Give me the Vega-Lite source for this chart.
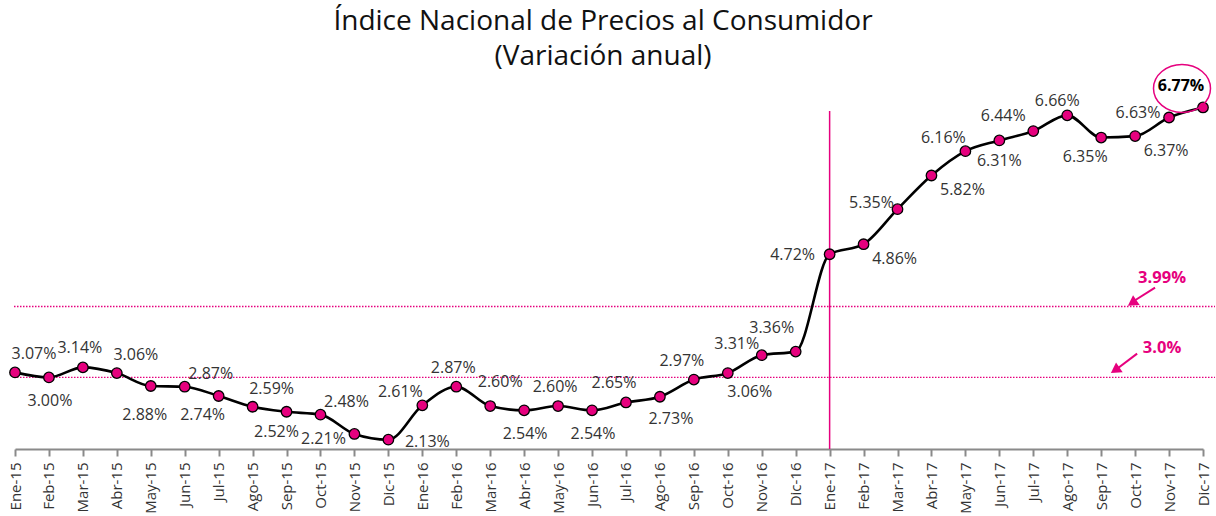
{
  "$schema": "https://vega.github.io/schema/vega-lite/v6.json",
  "width": 1188,
  "height": 358,
  "autosize": "none",
  "padding": {"left": 15, "top": 91, "right": 13, "bottom": 67},
  "background": "white",
  "config": {"view": {"stroke": null}, "font": "Open Sans", "text": {"font": "Open Sans", "fontSize": 16, "color": "#333"}},
  "title": {
    "text": ["Índice Nacional de Precios al Consumidor", "(Variación anual)"],
    "font": "Open Sans",
    "fontSize": 28,
    "fontWeight": "normal",
    "color": "#111",
    "anchor": "middle",
    "lineHeight": 35,
    "offset": -9,
    "dx": -6
  },
  "data": {
    "values": [
      {"m": "Ene-15", "v": 3.07}, {"m": "Feb-15", "v": 3.00}, {"m": "Mar-15", "v": 3.14},
      {"m": "Abr-15", "v": 3.06}, {"m": "May-15", "v": 2.88}, {"m": "Jun-15", "v": 2.87},
      {"m": "Jul-15", "v": 2.74}, {"m": "Ago-15", "v": 2.59}, {"m": "Sep-15", "v": 2.52},
      {"m": "Oct-15", "v": 2.48}, {"m": "Nov-15", "v": 2.21}, {"m": "Dic-15", "v": 2.13},
      {"m": "Ene-16", "v": 2.61}, {"m": "Feb-16", "v": 2.87}, {"m": "Mar-16", "v": 2.60},
      {"m": "Abr-16", "v": 2.54}, {"m": "May-16", "v": 2.60}, {"m": "Jun-16", "v": 2.54},
      {"m": "Jul-16", "v": 2.65}, {"m": "Ago-16", "v": 2.73}, {"m": "Sep-16", "v": 2.97},
      {"m": "Oct-16", "v": 3.06}, {"m": "Nov-16", "v": 3.31}, {"m": "Dic-16", "v": 3.36},
      {"m": "Ene-17", "v": 4.72}, {"m": "Feb-17", "v": 4.86}, {"m": "Mar-17", "v": 5.35},
      {"m": "Abr-17", "v": 5.82}, {"m": "May-17", "v": 6.16}, {"m": "Jun-17", "v": 6.31},
      {"m": "Jul-17", "v": 6.44}, {"m": "Ago-17", "v": 6.66}, {"m": "Sep-17", "v": 6.35},
      {"m": "Oct-17", "v": 6.37}, {"m": "Nov-17", "v": 6.63}, {"m": "Dic-17", "v": 6.77}
    ]
  },
  "transform": [{"calculate": "format(datum.v, '.2f') + '%'", "as": "lbl"}],
  "encoding": {
    "x": {
      "field": "m", "type": "ordinal", "sort": null,
      "scale": {"type": "point", "padding": 0, "domain": ["Ene-15", "Feb-15", "Mar-15", "Abr-15", "May-15", "Jun-15", "Jul-15", "Ago-15", "Sep-15", "Oct-15", "Nov-15", "Dic-15", "Ene-16", "Feb-16", "Mar-16", "Abr-16", "May-16", "Jun-16", "Jul-16", "Ago-16", "Sep-16", "Oct-16", "Nov-16", "Dic-16", "Ene-17", "Feb-17", "Mar-17", "Abr-17", "May-17", "Jun-17", "Jul-17", "Ago-17", "Sep-17", "Oct-17", "Nov-17", "Dic-17"]},
      "axis": {
        "title": null, "labelAngle": 270, "labelAlign": "right", "labelBaseline": "middle",
        "labelFont": "Open Sans", "labelFontSize": 15, "labelColor": "#333", "labelPadding": 6,
        "domainColor": "#8a8a8a", "domainWidth": 2, "tickColor": "#8a8a8a", "tickWidth": 2, "tickSize": 7,
        "grid": false, "labelOverlap": false
      }
    },
    "y": {"field": "v", "type": "quantitative", "scale": {"domain": [2, 7], "nice": false, "zero": false}, "axis": null}
  },
  "layer": [
    {
      "data": {"values": [{"r": 3.0}, {"r": 3.99}]},
      "mark": {"type": "rule", "color": "#E6007E", "strokeWidth": 1.4, "strokeDash": [1.5, 1.5], "x2Offset": 12, "xOffset": -1},
      "encoding": {"x": {"datum": "Ene-15"}, "x2": {"datum": "Dic-17"}, "y": {"field": "r", "type": "quantitative"}}
    },
    {
      "data": {"values": [{"mx": "Ene-17", "lo": 2, "hi": 6.72}]},
      "mark": {"type": "rule", "color": "#E6007E", "strokeWidth": 1.5},
      "encoding": {"x": {"field": "mx", "type": "ordinal"}, "y": {"field": "lo", "type": "quantitative"}, "y2": {"field": "hi"}}
    },
    {"mark": {"type": "line", "color": "#000", "strokeWidth": 2.6, "interpolate": "monotone"}},
    {"mark": {"type": "point", "filled": true, "fill": "#E6007E", "stroke": "#000", "strokeWidth": 1.3, "size": 110, "opacity": 1}},
    {"transform": [{"filter": {"field": "m", "oneOf": ["Ene-15", "Abr-15", "Ago-15"]}}], "mark": {"type": "text", "dx": 19, "dy": -18}, "encoding": {"text": {"field": "lbl"}}},
    {"transform": [{"filter": {"field": "m", "oneOf": ["Mar-15", "Feb-16", "May-16"]}}], "mark": {"type": "text", "dx": -3, "dy": -19}, "encoding": {"text": {"field": "lbl"}}},
    {"transform": [{"filter": {"field": "m", "oneOf": ["Feb-15", "Abr-16", "Jun-16"]}}], "mark": {"type": "text", "dx": 1, "dy": 24}, "encoding": {"text": {"field": "lbl"}}},
    {"transform": [{"filter": {"field": "m", "oneOf": ["May-15"]}}], "mark": {"type": "text", "dx": -6, "dy": 29}, "encoding": {"text": {"field": "lbl"}}},
    {"transform": [{"filter": {"field": "m", "oneOf": ["Jun-15", "Oct-15"]}}], "mark": {"type": "text", "dx": 26, "dy": -13}, "encoding": {"text": {"field": "lbl"}}},
    {"transform": [{"filter": {"field": "m", "oneOf": ["Jul-15", "Sep-17"]}}], "mark": {"type": "text", "dx": -16, "dy": 19}, "encoding": {"text": {"field": "lbl"}}},
    {"transform": [{"filter": {"field": "m", "oneOf": ["Sep-15"]}}], "mark": {"type": "text", "dx": -10, "dy": 20}, "encoding": {"text": {"field": "lbl"}}},
    {"transform": [{"filter": {"field": "m", "oneOf": ["Nov-15"]}}], "mark": {"type": "text", "dx": -31, "dy": 5}, "encoding": {"text": {"field": "lbl"}}},
    {"transform": [{"filter": {"field": "m", "oneOf": ["Dic-15"]}}], "mark": {"type": "text", "dx": 39, "dy": 2}, "encoding": {"text": {"field": "lbl"}}},
    {"transform": [{"filter": {"field": "m", "oneOf": ["Ene-16", "May-17"]}}], "mark": {"type": "text", "dx": -22, "dy": -13}, "encoding": {"text": {"field": "lbl"}}},
    {"transform": [{"filter": {"field": "m", "oneOf": ["Mar-16"]}}], "mark": {"type": "text", "dx": 10, "dy": -24}, "encoding": {"text": {"field": "lbl"}}},
    {"transform": [{"filter": {"field": "m", "oneOf": ["Jul-16", "Sep-16"]}}], "mark": {"type": "text", "dx": -12, "dy": -19}, "encoding": {"text": {"field": "lbl"}}},
    {"transform": [{"filter": {"field": "m", "oneOf": ["Ago-16"]}}], "mark": {"type": "text", "dx": 11, "dy": 22}, "encoding": {"text": {"field": "lbl"}}},
    {"transform": [{"filter": {"field": "m", "oneOf": ["Oct-16"]}}], "mark": {"type": "text", "dx": 22, "dy": 19}, "encoding": {"text": {"field": "lbl"}}},
    {"transform": [{"filter": {"field": "m", "oneOf": ["Nov-16"]}}], "mark": {"type": "text", "dx": -25, "dy": -11}, "encoding": {"text": {"field": "lbl"}}},
    {"transform": [{"filter": {"field": "m", "oneOf": ["Dic-16"]}}], "mark": {"type": "text", "dx": -24, "dy": -24}, "encoding": {"text": {"field": "lbl"}}},
    {"transform": [{"filter": {"field": "m", "oneOf": ["Ene-17"]}}], "mark": {"type": "text", "dx": -37, "dy": 1}, "encoding": {"text": {"field": "lbl"}}},
    {"transform": [{"filter": {"field": "m", "oneOf": ["Feb-17", "Oct-17", "Abr-17"]}}], "mark": {"type": "text", "dx": 31, "dy": 15}, "encoding": {"text": {"field": "lbl"}}},
    {"transform": [{"filter": {"field": "m", "oneOf": ["Mar-17"]}}], "mark": {"type": "text", "dx": -26, "dy": -6}, "encoding": {"text": {"field": "lbl"}}},
    {"transform": [{"filter": {"field": "m", "oneOf": ["Jun-17"]}}], "mark": {"type": "text", "dx": 0, "dy": 21}, "encoding": {"text": {"field": "lbl"}}},
    {"transform": [{"filter": {"field": "m", "oneOf": ["Jul-17"]}}], "mark": {"type": "text", "dx": -30, "dy": -15}, "encoding": {"text": {"field": "lbl"}}},
    {"transform": [{"filter": {"field": "m", "oneOf": ["Ago-17"]}}], "mark": {"type": "text", "dx": -10, "dy": -14}, "encoding": {"text": {"field": "lbl"}}},
    {"transform": [{"filter": {"field": "m", "oneOf": ["Nov-17"]}}], "mark": {"type": "text", "dx": -31, "dy": -4}, "encoding": {"text": {"field": "lbl"}}},
    {"transform": [{"filter": {"field": "m", "oneOf": ["Dic-17"]}}], "mark": {"type": "text", "fontWeight": "bold", "color": "#000", "dx": -22, "dy": -21}, "encoding": {"text": {"field": "lbl"}}},
    {
      "transform": [{"filter": {"field": "m", "oneOf": ["Dic-17"]}}],
      "mark": {"type": "point", "shape": "M -1 0 A 1 0.84 0 1 0 1 0 A 1 0.84 0 1 0 -1 0 Z", "size": 3249, "filled": false, "stroke": "#E6007E", "strokeWidth": 1.5, "opacity": 1, "xOffset": -21, "yOffset": -19}
    },
    {
      "data": {"values": [{"t": "3.99%", "mx": "Nov-17", "y": 4.394}, {"t": "3.0%", "mx": "Nov-17", "y": 3.415}]},
      "mark": {"type": "text", "fontSize": 16.5, "fontWeight": "bold", "color": "#E6007E", "xOffset": -7},
      "encoding": {"x": {"field": "mx", "type": "ordinal"}, "y": {"field": "y", "type": "quantitative"}, "text": {"field": "t"}}
    },
    {
      "data": {"values": [{"a": "Nov-17", "b": "Oct-17", "ya": 4.255, "yb": 4.06}]},
      "mark": {"type": "rule", "color": "#E6007E", "strokeWidth": 2, "xOffset": -14, "x2Offset": -2},
      "encoding": {"x": {"field": "a", "type": "ordinal"}, "x2": {"field": "b"}, "y": {"field": "ya", "type": "quantitative"}, "y2": {"field": "yb"}}
    },
    {
      "data": {"values": [{"a": "Oct-17", "b": "Oct-17", "ya": 3.332, "yb": 3.12}]},
      "mark": {"type": "rule", "color": "#E6007E", "strokeWidth": 2, "xOffset": 2, "x2Offset": -18},
      "encoding": {"x": {"field": "a", "type": "ordinal"}, "x2": {"field": "b"}, "y": {"field": "ya", "type": "quantitative"}, "y2": {"field": "yb"}}
    },
    {
      "data": {"values": [{"a": "Oct-17", "ya": 4.04}]},
      "mark": {"type": "point", "shape": "triangle-up", "angle": 236, "size": 140, "filled": true, "fill": "#E6007E", "strokeWidth": 0, "opacity": 1, "xOffset": -3},
      "encoding": {"x": {"field": "a", "type": "ordinal"}, "y": {"field": "ya", "type": "quantitative"}}
    },
    {
      "data": {"values": [{"a": "Oct-17", "ya": 3.1}]},
      "mark": {"type": "point", "shape": "triangle-up", "angle": 236, "size": 140, "filled": true, "fill": "#E6007E", "strokeWidth": 0, "opacity": 1, "xOffset": -20},
      "encoding": {"x": {"field": "a", "type": "ordinal"}, "y": {"field": "ya", "type": "quantitative"}}
    }
  ]
}
